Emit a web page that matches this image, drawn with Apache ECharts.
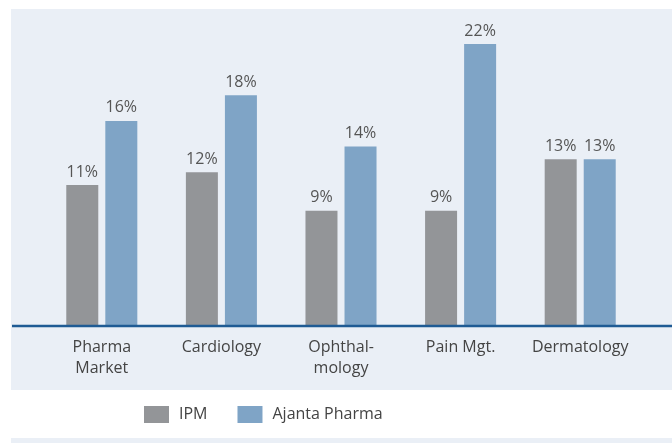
<!DOCTYPE html>
<html>
<head>
<meta charset="utf-8">
<script src="https://cdn.jsdelivr.net/npm/echarts@6/dist/echarts.min.js"></script>
<style>
  html, body { margin: 0; padding: 0; background: #ffffff; }
  #chart { width: 672px; height: 443px; }
</style>
</head>
<body>
<div id="chart"></div>
<script>
// Datos del gráfico
var categories = ['Pharma\nMarket', 'Cardiology', 'Ophthal-\nmology', 'Pain Mgt.', 'Dermatology'];
var ipmValues = [11, 12, 9, 9, 13];
var ajantaValues = [16, 18, 14, 22, 13];
var seriesNames = ['IPM', 'Ajanta Pharma'];

var chart = echarts.init(document.getElementById('chart'));

var labelStyle = {
  show: true,
  position: 'top',
  distance: 5,
  formatter: '{c}%',
  fontFamily: 'Open Sans',
  fontSize: 16,
  color: '#555555'
};

var option = {
  backgroundColor: '#ffffff',
  animation: false,
  textStyle: { fontFamily: 'Open Sans' },
  graphic: [
    // panel de fondo
    { type: 'rect', z: -10, silent: true, shape: { x: 11, y: 9, width: 661, height: 381 }, style: { fill: '#eaeff6' } },
    { type: 'rect', z: -10, silent: true, shape: { x: 11, y: 438, width: 661, height: 10 }, style: { fill: '#eaeff6' } },
    // línea base
    { type: 'line', z: 5, silent: true, shape: { x1: 12, y1: 326, x2: 672, y2: 326 }, style: { stroke: '#1f5b94', lineWidth: 2.5 } }
  ],
  grid: { left: 42, right: 32, top: 44, bottom: 117 },
  legend: {
    data: seriesNames,
    icon: 'rect',
    left: 144,
    top: 406,
    padding: 0,
    itemWidth: 25,
    itemHeight: 17,
    itemGap: 30,
    textStyle: { fontFamily: 'Open Sans', fontSize: 16, color: '#444444', padding: [0, 0, 0, 5] }
  },
  xAxis: {
    type: 'category',
    data: categories,
    axisLine: { show: false },
    axisTick: { show: false },
    axisLabel: { interval: 0, fontFamily: 'Open Sans', fontSize: 16, color: '#444444', lineHeight: 21, margin: 11 }
  },
  yAxis: {
    type: 'value',
    min: 0,
    max: 22,
    show: false,
    splitLine: { show: false }
  },
  series: [
    {
      name: seriesNames[0],
      type: 'bar',
      data: ipmValues,
      barWidth: 32,
      barGap: '22%',
      itemStyle: { color: '#939598' },
      label: labelStyle
    },
    {
      name: seriesNames[1],
      type: 'bar',
      data: ajantaValues,
      barWidth: 32,
      itemStyle: { color: '#7fa4c6' },
      label: labelStyle
    }
  ]
};

chart.setOption(option);
</script>
</body>
</html>
